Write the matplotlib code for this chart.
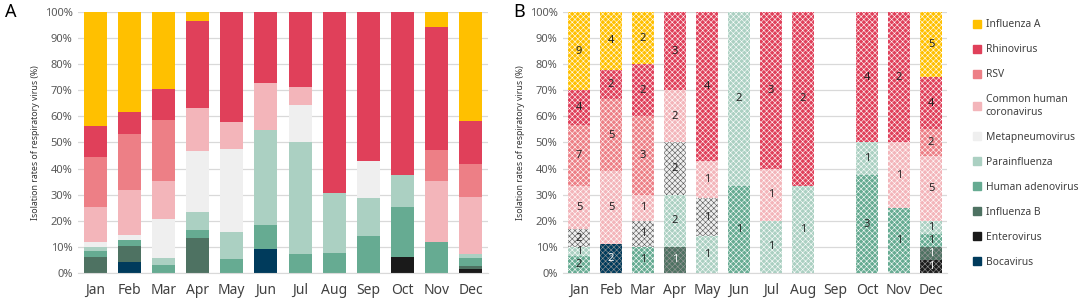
import numpy as np
import matplotlib.pyplot as plt

plt.rcParams['font.family'] = ['Noto Sans', 'DejaVu Sans']
plt.rcParams['hatch.linewidth'] = 0.4

months = ['Jan', 'Feb', 'Mar', 'Apr', 'May', 'Jun', 'Jul', 'Aug', 'Sep', 'Oct', 'Nov', 'Dec']
# bottom -> top stacking order
viruses = ['Bocavirus', 'Enterovirus', 'Influenza B', 'Human adenovirus', 'Parainfluenza',
           'Metapneumovirus', 'Common human\ncoronavirus', 'RSV', 'Rhinovirus', 'Influenza A']
colors = ['#003B5C', '#1A1A1A', '#4E7262', '#66AB92', '#ABD0C2',
          '#EFEFEF', '#F3B5BA', '#ED7F86', '#E0405A', '#FFC000']

# panel A: isolation rates (%)
boca_a   = [0, 4.3, 0, 0, 0, 9.1, 0, 0, 0, 0, 0, 0]
entero_a = [0, 0, 0, 0, 0, 0, 0, 0, 0, 6.3, 0, 1.4]
flub_a   = [6.0, 6.2, 0, 13.3, 0, 0, 0, 0, 0, 0, 0, 1.4]
adeno_a  = [2.5, 2.0, 2.9, 3.3, 5.3, 9.1, 7.1, 7.7, 14.3, 18.8, 11.8, 2.8]
para_a   = [1.3, 0, 2.9, 6.7, 10.5, 36.4, 42.9, 23.1, 14.3, 12.5, 0, 1.8]
metap_a  = [2.2, 2.1, 14.7, 23.3, 31.6, 0, 14.3, 0, 14.3, 0, 0, 0]
corona_a = [13.1, 17.3, 14.7, 16.7, 10.5, 18.2, 7.1, 0, 0, 0, 23.5, 21.8]
rsv_a    = [19.3, 21.3, 23.5, 0, 0, 0, 0, 0, 0, 0, 11.8, 12.4]
rhino_a  = [12.1, 8.5, 11.8, 33.4, 42.1, 27.3, 28.6, 69.2, 57.1, 62.4, 47.1, 16.8]
flua_a   = [43.5, 38.3, 29.4, 3.3, 0, 0, 0, 0, 0, 0, 5.8, 41.6]

# panel B: counts
boca_b   = [0, 2, 0, 0, 0, 0, 0, 0, 0, 0, 0, 0]
entero_b = [0, 0, 0, 0, 0, 0, 0, 0, 0, 0, 0, 1]
flub_b   = [0, 0, 0, 1, 0, 0, 0, 0, 0, 0, 0, 1]
adeno_b  = [2, 0, 1, 0, 0, 1, 0, 0, 0, 3, 1, 1]
para_b   = [1, 0, 0, 2, 1, 2, 1, 1, 0, 1, 0, 1]
metap_b  = [2, 0, 1, 2, 1, 0, 0, 0, 0, 0, 0, 0]
corona_b = [5, 5, 1, 2, 1, 0, 1, 0, 0, 0, 1, 5]
rsv_b    = [7, 5, 3, 0, 0, 0, 0, 0, 0, 0, 0, 2]
rhino_b  = [4, 2, 2, 3, 4, 0, 3, 2, 0, 4, 2, 4]
flua_b   = [9, 4, 2, 0, 0, 0, 0, 0, 0, 0, 0, 5]

data_a = np.array([boca_a, entero_a, flub_a, adeno_a, para_a, metap_a, corona_a, rsv_a, rhino_a, flua_a])
data_b = np.array([boca_b, entero_b, flub_b, adeno_b, para_b, metap_b, corona_b, rsv_b, rhino_b, flua_b], dtype=float)

fig = plt.figure(figsize=(10.84, 3.07), dpi=100)
axA = fig.add_axes([78/1084, 1-273/307, 410/1084, 261/307])
axB = fig.add_axes([563/1084, 1-273/307, 384/1084, 261/307])

x = np.arange(len(months))


def style(ax):
    ax.set_ylim(0, 100)
    ax.set_xlim(-0.5, 11.5)
    ax.set_yticks(np.arange(0, 101, 10))
    ax.set_yticklabels([f'{v}%' for v in range(0, 101, 10)])
    ax.set_xticks(x)
    ax.set_xticklabels(months)
    ax.yaxis.grid(True, color='#D9D9D9', lw=0.9)
    ax.set_axisbelow(True)
    for s in ['top', 'right', 'left']:
        ax.spines[s].set_visible(False)
    ax.spines['bottom'].set_color('#D9D9D9')
    ax.tick_params(axis='y', length=0, labelsize=8, colors='#595959', pad=4)
    ax.tick_params(axis='x', length=0, labelsize=10, colors='#404040', pad=7)
    ax.set_ylabel('Isolation rates of respiratory virus (%)', fontsize=6.3, color='#333333', labelpad=3)


# panel A
bottom = np.zeros(12)
for i in range(len(viruses)):
    axA.bar(x, data_a[i], 0.67, bottom=bottom, color=colors[i], linewidth=0)
    bottom += data_a[i]
style(axA)

# panel B: percentages from counts, with dither-like hatch and count labels
tot = data_b.sum(axis=0)
pct = np.divide(data_b * 100, tot, out=np.zeros_like(data_b), where=tot > 0)
bottom = np.zeros(12)
dark = ['Bocavirus', 'Enterovirus', 'Influenza B']
for i, v in enumerate(viruses):
    hc = '#555555' if v == 'Metapneumovirus' else ('#FFFFFF' if v not in dark else '#9A9A9A')
    axB.bar(x, pct[i], 0.66, bottom=bottom, color=colors[i], edgecolor=hc,
            hatch='xxxxxx', linewidth=0)
    for j in range(12):
        if data_b[i, j] > 0:
            axB.text(x[j], bottom[j] + pct[i, j] / 2, str(int(data_b[i, j])), ha='center', va='center',
                     fontsize=8, color='white' if v in dark else '#222222')
    bottom += pct[i]
style(axB)

fig.text(5/1084, 1-12/307, 'A', fontsize=13, fontweight='bold', va='center')
fig.text(513/1084, 1-12/307, 'B', fontsize=13, fontweight='bold', va='center')

# legend
handles = [plt.Rectangle((0, 0), 1, 1, color=c) for c in colors[::-1]]
fig.legend(handles, viruses[::-1], loc='upper left', bbox_to_anchor=(964/1084, 1-10/307),
           frameon=False, fontsize=7.4, handlelength=0.8, handleheight=0.8, handletextpad=0.4,
           labelspacing=1.36, labelcolor='#404040')

fig.savefig('out.png', dpi=100)
